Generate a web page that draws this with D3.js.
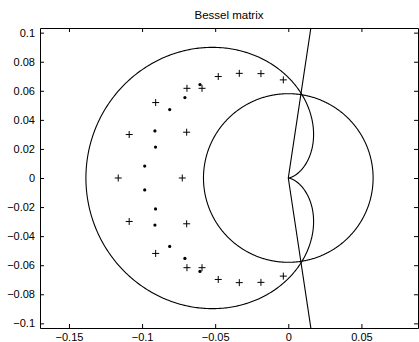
<!DOCTYPE html>
<html>
<head>
<meta charset="utf-8">
<script src="https://cdn.jsdelivr.net/npm/d3@7"></script>
<style>
  body { margin: 0; background: #fff; }
  svg { display: block; font-family: "Liberation Sans", Arial, sans-serif; }
  .axis text { font-size: 11px; fill: #000; }
  .axis line, .axis path { stroke: #000; }
</style>
</head>
<body>
<div id="chart"></div>
<script>
const width = 419, height = 342;
const margin = {top: 28, right: 1, bottom: 14, left: 40};

const xTicks = [-0.15, -0.1, -0.05, 0, 0.05];
const yTicks = [-0.1, -0.08, -0.06, -0.04, -0.02, 0, 0.02, 0.04, 0.06, 0.08, 0.1];

// upper half of the eigenvalue markers (mirrored below the real axis)
const plusX = [-0.1163, -0.0725, -0.1088, -0.0695, -0.0907, -0.0693, -0.0590, -0.0479, -0.0335, -0.0187, -0.0034];
const plusY = [0, 0, 0.0299, 0.0315, 0.0519, 0.0617, 0.0617, 0.0698, 0.0720, 0.0718, 0.0675];
const dotX = [-0.0604, -0.0707, -0.0811, -0.0912, -0.0908, -0.0982];
const dotY = [0.0643, 0.0553, 0.0471, 0.0324, 0.0213, 0.0082];

// boundary curves
const cardioidA = 0.0692;
const circleR = 0.058;
const rayAngle = 81.5;

const w = width - margin.left - margin.right;
const h = height - margin.top - margin.bottom;

const x = d3.scaleLinear().domain([-0.1698, 0.0887]).range([0, w]);
const y = d3.scaleLinear().domain([-0.1032, 0.1032]).range([h, 0]);

const fmt = (v) => (v === 0 ? "0" : String(+v.toFixed(2))).replace("-", "\u2212");

function mirror(xs, ys) {
  const pts = xs.map((v, i) => [v, ys[i]]);
  ys.forEach((v, i) => { if (v !== 0) pts.push([xs[i], -v]); });
  return pts;
}

const svg = d3.select("#chart").append("svg")
    .attr("width", width)
    .attr("height", height);

svg.append("text")
    .attr("x", margin.left + w / 2)
    .attr("y", 19)
    .attr("text-anchor", "middle")
    .style("font-size", "11.5px")
    .text("Bessel matrix");

const g = svg.append("g")
    .attr("transform", "translate(" + margin.left + "," + margin.top + ")");

g.append("clipPath").attr("id", "clip")
  .append("rect").attr("width", w).attr("height", h);

const plot = g.append("g").attr("clip-path", "url(#clip)");
const line = d3.line().x((d) => x(d[0])).y((d) => y(d[1]));

// cardioid r = a(1 - cos t) with cusp at the origin
const theta = d3.range(0, 2 * Math.PI + 0.001, Math.PI / 360);
plot.append("path")
    .attr("d", line(theta.map((t) => {
      const r = cardioidA * (1 - Math.cos(t));
      return [r * Math.cos(t), r * Math.sin(t)];
    })))
    .attr("fill", "none").attr("stroke", "#000").attr("stroke-width", 1.1);

plot.append("path")
    .attr("d", line(theta.map((t) => [circleR * Math.cos(t), circleR * Math.sin(t)])))
    .attr("fill", "none").attr("stroke", "#000").attr("stroke-width", 1.1);

const ra = rayAngle * Math.PI / 180;
plot.append("path")
    .attr("d", line([[0.2 * Math.cos(ra), 0.2 * Math.sin(ra)], [0, 0], [0.2 * Math.cos(ra), -0.2 * Math.sin(ra)]]))
    .attr("fill", "none").attr("stroke", "#000").attr("stroke-width", 1.1);

plot.append("g").selectAll("path")
    .data(mirror(plusX, plusY))
  .enter().append("path")
    .attr("transform", (d) => "translate(" + x(d[0]) + "," + y(d[1]) + ")")
    .attr("d", "M-3.5,0H3.5M0,-3.5V3.5")
    .attr("stroke", "#000").attr("stroke-width", 1);

plot.append("g").selectAll("circle")
    .data(mirror(dotX, dotY))
  .enter().append("circle")
    .attr("cx", (d) => x(d[0]))
    .attr("cy", (d) => y(d[1]))
    .attr("r", 1.6)
    .attr("fill", "#000");

// axes, ticks pointing inward on all four sides
g.append("g").attr("class", "axis")
    .attr("transform", "translate(0," + h + ")")
    .call(d3.axisBottom(x).tickValues(xTicks).tickFormat(fmt).tickSizeInner(-4).tickSizeOuter(0).tickPadding(5));
g.append("g").attr("class", "axis")
    .call(d3.axisTop(x).tickValues(xTicks).tickFormat("").tickSizeInner(-4).tickSizeOuter(0));
g.append("g").attr("class", "axis")
    .call(d3.axisLeft(y).tickValues(yTicks).tickFormat(fmt).tickSizeInner(-4).tickSizeOuter(0).tickPadding(5));
g.append("g").attr("class", "axis")
    .attr("transform", "translate(" + w + ",0)")
    .call(d3.axisRight(y).tickValues(yTicks).tickFormat("").tickSizeInner(-4).tickSizeOuter(0));
</script>
</body>
</html>
